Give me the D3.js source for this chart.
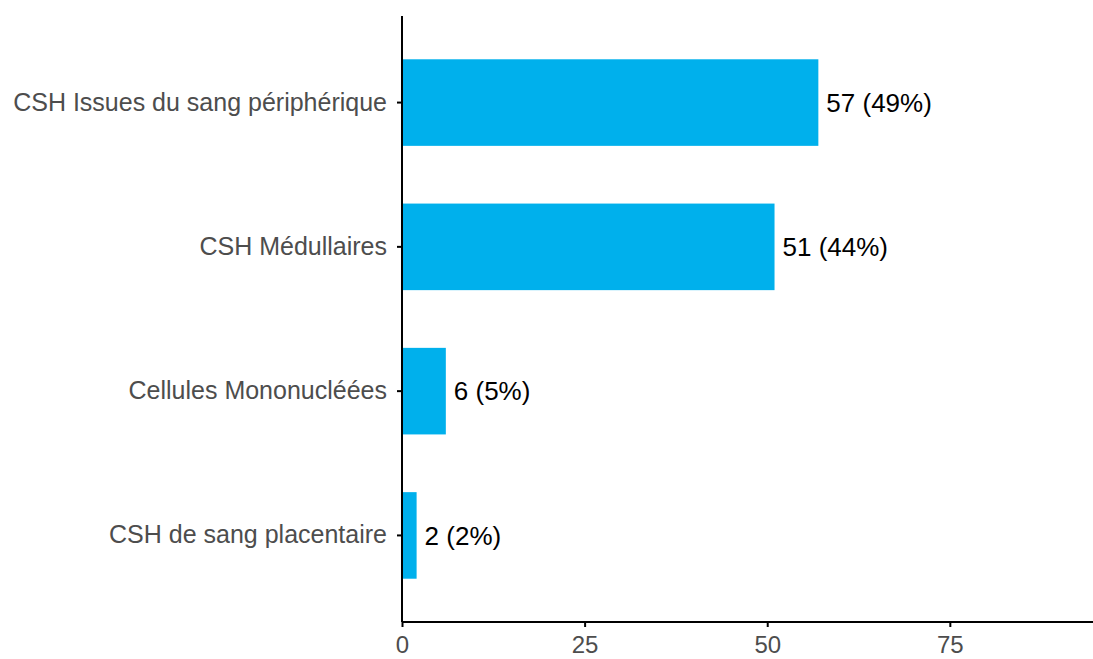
<!DOCTYPE html>
<html>
<head>
<meta charset="utf-8">
<script src="https://cdn.jsdelivr.net/npm/d3@7"></script>
<style>
  body { margin: 0; background: #fff; }
  text { font-family: "Liberation Sans", Arial, sans-serif; }
</style>
</head>
<body>
<script>
// data
var categories = ["CSH Issues du sang périphérique", "CSH Médullaires", "Cellules Mononucléées", "CSH de sang placentaire"];
var counts = [57, 51, 6, 2];
var percents = ["49%", "44%", "5%", "2%"];
var xTicks = [0, 25, 50, 75];

var W = 1093, H = 659;
var margin = { top: 16, right: 0, bottom: 37, left: 402 };
var width = W - margin.left - margin.right;
var height = H - margin.top - margin.bottom;

var svg = d3.select("body").append("svg")
    .attr("width", W)
    .attr("height", H);

var g = svg.append("g")
    .attr("transform", "translate(" + margin.left + "," + margin.top + ")");

var x = d3.scaleLinear().domain([0, 94.6]).range([0, width]);
var y = d3.scaleBand().domain(categories).range([0, height])
    .paddingInner(0.4).paddingOuter(0.3);

// bars
g.selectAll("rect.bar")
    .data(categories)
    .enter().append("rect")
    .attr("class", "bar")
    .attr("x", x(0))
    .attr("y", d => y(d))
    .attr("width", (d, i) => x(counts[i]) - x(0))
    .attr("height", y.bandwidth())
    .attr("fill", "#00B0EC");

// value labels
g.selectAll("text.val")
    .data(categories)
    .enter().append("text")
    .attr("class", "val")
    .attr("x", (d, i) => x(counts[i]) + 8)
    .attr("y", d => y(d) + y.bandwidth() / 2)
    .attr("dy", "0.35em")
    .style("font-size", "26px")
    .attr("fill", "#000")
    .text((d, i) => counts[i] + " (" + percents[i] + ")");

// y axis
var yAxis = g.append("g")
    .call(d3.axisLeft(y).tickSize(5).tickPadding(10));
yAxis.select(".domain").attr("stroke", "#000").attr("stroke-width", 2)
    .attr("d", "M0,0V" + height);
yAxis.selectAll(".tick line").attr("stroke", "#000").attr("stroke-width", 2);
yAxis.selectAll(".tick text")
    .style("font-size", "25px")
    .attr("fill", "#4d4d4d");

// x axis
var xAxis = g.append("g")
    .attr("transform", "translate(0," + height + ")")
    .call(d3.axisBottom(x).tickValues(xTicks).tickSize(5).tickPadding(9));
xAxis.select(".domain").attr("stroke", "#000").attr("stroke-width", 2)
    .attr("d", "M0,0H" + width);
xAxis.selectAll(".tick line").attr("stroke", "#000").attr("stroke-width", 2);
xAxis.selectAll(".tick text")
    .style("font-size", "24px")
    .attr("fill", "#4d4d4d");
</script>
</body>
</html>
